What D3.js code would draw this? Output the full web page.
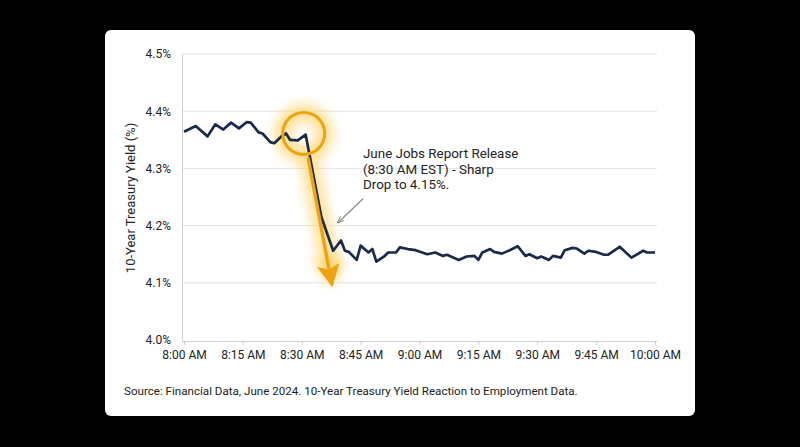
<!DOCTYPE html>
<html>
<head>
<meta charset="utf-8">
<script src="https://cdn.jsdelivr.net/npm/d3@7"></script>
<style>
  html, body { margin: 0; padding: 0; background: #000; }
  svg { display: block; font-family: Roboto, "Liberation Sans", Arial, sans-serif; }
</style>
</head>
<body>
<div id="chart"></div>
<script>
// minutes after 8:00 AM and 10-year yield (%)
var times = [0, 3, 6, 8, 10, 12, 14, 16, 17, 19, 20, 22, 23, 25, 26, 27, 29, 31,
  35, 38, 40, 41, 42, 44, 45, 47, 48, 49, 51, 52, 54, 55, 57, 59, 62, 64, 66, 67,
  70, 72, 74, 75, 76, 78, 79, 81, 83, 85, 87, 88, 90, 91, 93, 94, 96, 97, 99, 100,
  102, 103, 105, 107, 108, 111, 114, 117, 118, 120];
var yields = [4.364, 4.374, 4.356, 4.377, 4.368, 4.380, 4.370, 4.381, 4.380, 4.363, 4.361, 4.346, 4.344, 4.357, 4.361, 4.350, 4.349, 4.359,
  4.215, 4.156, 4.174, 4.156, 4.154, 4.140, 4.165, 4.153, 4.159, 4.137, 4.146, 4.153, 4.153, 4.162, 4.159, 4.157, 4.150, 4.153, 4.147, 4.149,
  4.140, 4.146, 4.147, 4.140, 4.153, 4.159, 4.154, 4.151, 4.157, 4.164, 4.147, 4.150, 4.143, 4.146, 4.140, 4.147, 4.144, 4.157, 4.161, 4.160,
  4.151, 4.156, 4.154, 4.149, 4.149, 4.163, 4.144, 4.156, 4.153, 4.153];
var yTicks = [4.0, 4.1, 4.2, 4.3, 4.4, 4.5];
var xTickMinutes = [0, 15, 30, 45, 60, 75, 90, 105, 120];
var noteLines = ["June Jobs Report Release", "(8:30 AM EST) - Sharp", "Drop to 4.15%."];
var sourceText = "Source: Financial Data, June 2024. 10-Year Treasury Yield Reaction to Employment Data.";

var cfg = { width: 800, height: 447 };
var base = new Date(2024, 6, 5, 8, 0);
function toTime(m) { return new Date(base.getTime() + m * 60000); }

var data = times.map(function(m, i) { return { t: toTime(m), v: yields[i] }; });

var svg = d3.select("#chart").append("svg")
  .attr("width", cfg.width)
  .attr("height", cfg.height);

var defs = svg.append("defs");
var glow = defs.append("filter").attr("id", "glow")
  .attr("x", "-50%").attr("y", "-50%").attr("width", "200%").attr("height", "200%");
glow.append("feGaussianBlur").attr("stdDeviation", 6);

var arrowOrange = defs.append("marker").attr("id", "headO")
  .attr("viewBox", "0 0 10 10").attr("refX", 9).attr("refY", 5)
  .attr("markerWidth", 6.5).attr("markerHeight", 6.5).attr("markerUnits", "strokeWidth")
  .attr("orient", "auto");
arrowOrange.append("path").attr("d", "M0,0 L10,5 L0,10 L2,5 Z").attr("fill", "#eda412");

var arrowGrey = defs.append("marker").attr("id", "headG")
  .attr("viewBox", "0 0 10 10").attr("refX", 9).attr("refY", 5)
  .attr("markerWidth", 7).attr("markerHeight", 7).attr("markerUnits", "userSpaceOnUse")
  .attr("orient", "auto");
arrowGrey.append("path").attr("d", "M0,1 L10,5 L0,9").attr("fill", "none").attr("stroke", "#888").attr("stroke-width", 1.3);

// card
svg.append("rect")
  .attr("x", 105).attr("y", 30).attr("width", 590).attr("height", 386)
  .attr("rx", 6).attr("fill", "#fff");

var x = d3.scaleTime()
  .domain([toTime(0), toTime(120)])
  .range([184, 655]);
var y = d3.scaleLinear()
  .domain([4.0, 4.5])
  .range([340, 54]);

// grid
svg.append("g").selectAll("line")
  .data(yTicks.slice(1))
  .enter().append("line")
    .attr("x1", 182).attr("x2", 657)
    .attr("y1", function(d) { return y(d); })
    .attr("y2", function(d) { return y(d); })
    .attr("stroke", "#e3e3e3").attr("stroke-width", 1);

// y axis
var yAxis = svg.append("g")
  .attr("transform", "translate(182,0)")
  .call(d3.axisLeft(y).tickValues(yTicks).tickSize(0).tickPadding(11)
    .tickFormat(function(d) { return d.toFixed(1) + "%"; }));
yAxis.select(".domain").attr("stroke", "#cfcfcf");
yAxis.selectAll("text").attr("font-size", 12).attr("fill", "#222").attr("font-family", "Roboto, sans-serif");

// x axis
var xAxis = svg.append("g")
  .attr("transform", "translate(0," + 341 + ")")
  .call(d3.axisBottom(x).tickValues(xTickMinutes.map(toTime)).tickSize(4).tickSizeOuter(0).tickPadding(5)
    .tickFormat(d3.timeFormat("%-I:%M %p")));
xAxis.select(".domain").attr("stroke", "#cfcfcf").attr("d", "M182,0.5H657");
xAxis.selectAll(".tick line").attr("stroke", "#cfcfcf");
xAxis.selectAll("text").attr("font-size", 12).attr("fill", "#222").attr("font-family", "Roboto, sans-serif");

// y label
svg.append("text")
  .attr("transform", "translate(135," + 198 + ") rotate(-90)")
  .attr("text-anchor", "middle")
  .attr("font-size", 13).attr("fill", "#222")
  .text("10-Year Treasury Yield (%)");

// highlight circle with glow
var cx = x(toTime(30.5)), cy = y(4.361);
svg.append("circle").attr("cx", cx).attr("cy", cy).attr("r", 21)
  .attr("fill", "none").attr("stroke", "#ffd060").attr("stroke-width", 16)
  .attr("opacity", 0.7).attr("filter", "url(#glow)");

// orange arrow glow
var a0 = [x(toTime(31.6)), y(4.319)], a1 = [x(toTime(37.7)), y(4.096)];
svg.append("line")
  .attr("x1", a0[0]).attr("y1", a0[1]).attr("x2", a1[0]).attr("y2", a1[1] - 10)
  .attr("stroke", "#ffd060").attr("stroke-width", 18).attr("opacity", 0.65)
  .attr("filter", "url(#glow)");
svg.append("path")
  .attr("d", "M" + (a1[0] - 18) + "," + (a1[1] - 28) + "L" + a1[0] + "," + (a1[1] + 2) + "L" + (a1[0] + 12) + "," + (a1[1] - 27) + "Z")
  .attr("fill", "#ffd060").attr("opacity", 0.7).attr("filter", "url(#glow)");

// line
var line = d3.line()
  .x(function(d) { return x(d.t); })
  .y(function(d) { return y(d.v); });
svg.append("path")
  .datum(data)
  .attr("d", line)
  .attr("fill", "none")
  .attr("stroke", "#1b2a4a")
  .attr("stroke-width", 2.7)
  .attr("stroke-linejoin", "round");

// crisp circle and arrow
svg.append("circle").attr("cx", cx).attr("cy", cy).attr("r", 21)
  .attr("fill", "none").attr("stroke", "#eda412").attr("stroke-width", 3);
svg.append("line")
  .attr("x1", a0[0]).attr("y1", a0[1]).attr("x2", a1[0]).attr("y2", a1[1])
  .attr("stroke", "#eda412").attr("stroke-width", 3.5)
  .attr("marker-end", "url(#headO)");

// annotation
var g0 = [x(toTime(45.6)), y(4.247)], g1 = [x(toTime(39.2)), y(4.205)];
svg.append("line")
  .attr("x1", g0[0]).attr("y1", g0[1]).attr("x2", g1[0]).attr("y2", g1[1])
  .attr("stroke", "#888").attr("stroke-width", 1.2)
  .attr("marker-end", "url(#headG)");

svg.append("g").selectAll("text")
  .data(noteLines)
  .enter().append("text")
    .attr("x", x(toTime(45.6)))
    .attr("y", function(d, i) { return 158 + i * 15.5; })
    .attr("font-size", 13.4).attr("fill", "#222")
    .text(function(d) { return d; });

// source
svg.append("text")
  .attr("x", 124).attr("y", 395)
  .attr("font-size", 11.6).attr("fill", "#222")
  .text(sourceText);
</script>
</body>
</html>
